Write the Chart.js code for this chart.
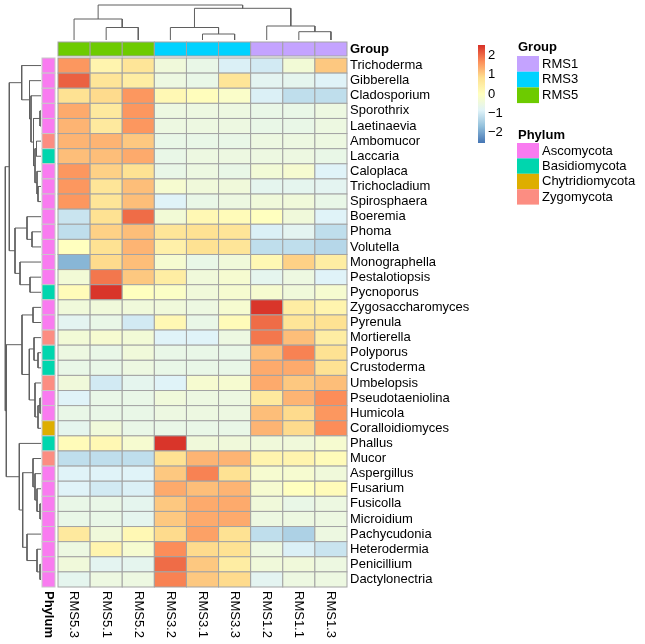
<!DOCTYPE html>
<html>
<head>
<meta charset="utf-8">
<script src="https://cdn.jsdelivr.net/npm/chart.js@4.4.0/dist/chart.umd.min.js"></script>
<style>
html, body { margin: 0; padding: 0; background: #fff; }
#wrap { width: 645px; height: 644px; }
</style>
</head>
<body>
<div id="wrap"><canvas id="heatmap" width="645" height="644"></canvas></div>
<script>
// samples (columns), in dendrogram order
const samples = ['RMS5.3', 'RMS5.1', 'RMS5.2', 'RMS3.2', 'RMS3.1', 'RMS3.3', 'RMS1.2', 'RMS1.1', 'RMS1.3'];
const sampleGroup = ['RMS5', 'RMS5', 'RMS5', 'RMS3', 'RMS3', 'RMS3', 'RMS1', 'RMS1', 'RMS1'];

// genera (rows), in dendrogram order
const genera = ['Trichoderma', 'Gibberella', 'Cladosporium', 'Sporothrix', 'Laetinaevia', 'Ambomucor',
  'Laccaria', 'Caloplaca', 'Trichocladium', 'Spirosphaera', 'Boeremia', 'Phoma', 'Volutella',
  'Monographella', 'Pestalotiopsis', 'Pycnoporus', 'Zygosaccharomyces', 'Pyrenula', 'Mortierella',
  'Polyporus', 'Crustoderma', 'Umbelopsis', 'Pseudotaeniolina', 'Humicola', 'Coralloidiomyces',
  'Phallus', 'Mucor', 'Aspergillus', 'Fusarium', 'Fusicolla', 'Microidium', 'Pachycudonia',
  'Heterodermia', 'Penicillium', 'Dactylonectria'];
const phylum = ['Ascomycota', 'Ascomycota', 'Ascomycota', 'Ascomycota', 'Ascomycota', 'Zygomycota',
  'Basidiomycota', 'Ascomycota', 'Ascomycota', 'Ascomycota', 'Ascomycota', 'Ascomycota', 'Ascomycota',
  'Ascomycota', 'Ascomycota', 'Basidiomycota', 'Ascomycota', 'Ascomycota', 'Zygomycota',
  'Basidiomycota', 'Basidiomycota', 'Zygomycota', 'Ascomycota', 'Ascomycota', 'Chytridiomycota',
  'Basidiomycota', 'Zygomycota', 'Ascomycota', 'Ascomycota', 'Ascomycota', 'Ascomycota', 'Ascomycota',
  'Ascomycota', 'Ascomycota', 'Ascomycota'];

// row-scaled abundance (z-score), one array per genus
const zscores = [
  [1.6, 0.3, 0.7, -0.4, -0.6, -0.9, -1.0, -0.35, 1.1],
  [2.1, 0.7, 0.5, -0.5, -0.6, 0.7, -0.75, -0.7, -0.85],
  [0.8, 0.9, 1.6, 0.2, 0.05, -0.15, -0.9, -1.2, -1.2],
  [1.4, 0.6, 1.6, -0.5, -0.5, -0.5, -0.6, -0.6, -0.5],
  [1.3, 0.6, 1.6, -0.5, -0.5, -0.5, -0.6, -0.6, -0.5],
  [1.3, 1.3, 1.1, -0.6, -0.6, -0.6, -0.5, -0.5, -0.5],
  [1.2, 1.2, 1.4, -0.6, -0.5, -0.5, -0.5, -0.5, -0.6],
  [1.6, 1.0, 0.8, -0.6, -0.5, -0.6, -0.35, -0.25, -0.85],
  [1.6, 0.7, 1.2, -0.25, -0.4, -0.4, -0.7, -0.7, -0.75],
  [1.6, 0.7, 1.2, -0.85, -0.6, -0.5, -0.4, -0.4, -0.6],
  [-1.1, 0.8, 2.0, -0.35, 0.2, 0.1, 0.0, -0.4, -0.85],
  [-1.2, 1.0, 1.2, 0.7, 0.8, 0.7, -0.9, -0.75, -1.2],
  [0.0, 0.8, 1.3, 0.4, 0.8, 0.7, -1.2, -1.2, -1.3],
  [-1.8, 0.9, 1.2, -0.25, -0.6, -0.4, 0.2, 1.0, 0.5],
  [-0.35, 1.9, 1.1, 0.5, -0.4, -0.25, -0.7, -0.5, -0.85],
  [0.1, 2.5, 0.0, -0.1, -0.4, -0.25, -0.25, -0.4, -0.25],
  [-0.4, -0.4, -0.4, -0.4, -0.5, -0.25, 2.5, 0.5, 0.3],
  [-0.75, -0.6, -1.0, 0.2, -0.6, 0.1, 2.0, 0.7, 0.8],
  [-0.35, -0.25, -0.35, -0.85, -0.85, -0.5, 1.9, 1.2, 0.5],
  [-0.5, -0.6, -0.4, -0.6, -0.6, -0.6, 1.2, 1.8, 0.8],
  [-0.6, -0.6, -0.5, -0.6, -0.6, -0.6, 1.4, 1.4, 0.8],
  [-0.4, -1.0, -0.7, -0.85, -0.25, -0.25, 1.4, 1.1, 1.2],
  [-0.85, -0.6, -0.6, -0.4, -0.5, -0.5, 0.6, 1.3, 1.7],
  [-0.6, -0.6, -0.6, -0.5, -0.5, -0.5, 1.2, 0.9, 1.6],
  [-0.7, -0.4, -0.6, -0.6, -0.6, -0.6, 1.3, 0.9, 1.7],
  [0.1, 0.2, -0.25, 2.5, -0.4, -0.4, -0.4, -0.4, -0.25],
  [-1.2, -1.2, -1.2, 0.8, 1.3, 1.3, 0.3, 0.3, 0.1],
  [-0.85, -0.85, -0.85, 1.1, 1.8, 0.8, -0.25, -0.25, -0.4],
  [-0.85, -1.0, -0.9, 1.4, 1.2, 1.3, -0.25, 0.0, 0.1],
  [-0.6, -0.6, -0.7, 1.1, 1.4, 1.4, -0.4, -0.6, -0.5],
  [-0.6, -0.6, -0.7, 1.1, 1.4, 1.4, -0.5, -0.5, -0.5],
  [0.6, -0.4, 0.2, 0.9, 1.5, 0.8, -1.2, -1.4, -0.5],
  [-0.5, 0.3, -0.25, 1.7, 0.9, 0.8, -0.5, -0.9, -1.1],
  [-0.4, -0.75, -0.7, 2.0, 1.1, 0.5, -0.4, -0.4, -0.5],
  [-0.7, -0.5, -0.5, 1.8, 1.1, 0.9, -0.75, -0.5, -0.5]
];

// annotation legends
const groupNames = ['RMS1', 'RMS3', 'RMS5'];
const groupColors = ['#C4A3FF', '#00D2FF', '#6DCB00'];
const phylumNames = ['Ascomycota', 'Basidiomycota', 'Chytridiomycota', 'Zygomycota'];
const phylumColors = ['#F97BF0', '#00D6AE', '#DEAE00', '#FC8D82'];

// colour key
const legendTicks = [2, 1, 0, -1, -2];
const scaleMin = -2.55;
const scaleMax = 2.55;
const palette = ['#4575B4', '#91BFDB', '#E0F3F8', '#FFFFBF', '#FEE090', '#FC8D59', '#D73027'];

// hclust style merges: negative = leaf (1-based), positive = earlier merge; third value = height
const colMerge = [[-2, -3, 12.5], [-1, 1, 21], [-5, -6, 6], [-4, 3, 12.5], [-8, -9, 8.3],
  [-7, 5, 14], [4, 6, 31.7], [2, 7, 35]];
const rowMerge = [[-4, -5, 1], [-6, -7, 4.5], [-9, -10, 3], [-8, 3, 4], [2, 4, 6], [1, 5, 7.5],
  [-3, 6, 10], [-2, 7, 11.5], [-1, 8, 19.3], [-12, -13, 9], [-11, 10, 14], [-15, -16, 11],
  [-14, 12, 21], [11, 13, 26], [9, 14, 31.7], [-17, -18, 8], [-20, -21, 3], [-19, 17, 7],
  [-23, -24, 1], [19, -25, 3], [-22, 20, 6], [18, 21, 11.7], [16, 22, 19], [-30, -31, 1],
  [-29, 24, 4], [-28, 25, 6], [-27, 26, 8], [-34, -35, 1], [-33, 28, 4], [-32, 29, 14],
  [27, 30, 18.3], [-26, 31, 21.7], [23, 32, 34.7], [15, 33, 35.7]];

const COL_PX = (645 - 58 - 298) / samples.length;
const ROW_PX = (644 - 58 - 57) / genera.length;

function hexRgb(h) {
  return [parseInt(h.slice(1, 3), 16), parseInt(h.slice(3, 5), 16), parseInt(h.slice(5, 7), 16)];
}
function valueColor(v) {
  let t = (v - scaleMin) / (scaleMax - scaleMin);
  t = Math.max(0, Math.min(1, t)) * (palette.length - 1);
  const i = Math.min(palette.length - 2, Math.floor(t));
  const f = t - i;
  const a = hexRgb(palette[i]), b = hexRgb(palette[i + 1]);
  const c = a.map((x, k) => Math.round(x + (b[k] - x) * f));
  return 'rgb(' + c.join(',') + ')';
}

// turn merges into U-shaped polylines; toXY maps (position, height) to scale values
function dendroDatasets(merges, toXY) {
  const pos = [], hgt = [];
  const sets = [];
  const p = id => id < 0 ? -id - 0.5 : pos[id - 1];
  const h = id => id < 0 ? 0 : hgt[id - 1];
  merges.forEach(m => {
    const pa = p(m[0]), pb = p(m[1]);
    pos.push((pa + pb) / 2);
    hgt.push(m[2]);
    sets.push({
      type: 'scatter',
      data: [toXY(pa, h(m[0])), toXY(pa, m[2]), toXY(pb, m[2]), toXY(pb, h(m[1]))],
      showLine: true,
      borderColor: '#5f5f5f',
      borderWidth: 1,
      pointRadius: 0,
      clip: false
    });
  });
  return sets;
}

const colSets = dendroDatasets(colMerge, (p, h) => ({ x: p, y: (40 - h - 58) / ROW_PX }));
const rowSets = dendroDatasets(rowMerge, (p, h) => ({ x: (41 - h - 58) / COL_PX, y: p }));

const FONT = '"Liberation Sans", Arial, sans-serif';

const heatPlugin = {
  id: 'heatPlugin',
  beforeDatasetsDraw(chart) {
    const ctx = chart.ctx;
    const xs = chart.scales.x, ys = chart.scales.y;
    ctx.save();
    // cells
    zscores.forEach((row, r) => {
      row.forEach((v, c) => {
        const x0 = xs.getPixelForValue(c), x1 = xs.getPixelForValue(c + 1);
        const y0 = ys.getPixelForValue(r), y1 = ys.getPixelForValue(r + 1);
        ctx.fillStyle = valueColor(v);
        ctx.fillRect(x0, y0, x1 - x0, y1 - y0);
        ctx.strokeStyle = '#a3a3a3';
        ctx.lineWidth = 1;
        ctx.strokeRect(x0, y0, x1 - x0, y1 - y0);
      });
    });
    // group bar
    samples.forEach((s, c) => {
      const x0 = xs.getPixelForValue(c), x1 = xs.getPixelForValue(c + 1);
      ctx.fillStyle = groupColors[groupNames.indexOf(sampleGroup[c])];
      ctx.fillRect(x0, 42, x1 - x0, 14);
      ctx.strokeStyle = '#a3a3a3';
      ctx.strokeRect(x0, 42, x1 - x0, 14);
    });
    // phylum bar
    genera.forEach((g, r) => {
      const y0 = ys.getPixelForValue(r), y1 = ys.getPixelForValue(r + 1);
      ctx.fillStyle = phylumColors[phylumNames.indexOf(phylum[r])];
      ctx.fillRect(42, y0, 13, y1 - y0);
      ctx.strokeStyle = '#c8c8c8';
      ctx.strokeRect(42, y0, 13, y1 - y0);
    });
    // row labels
    ctx.fillStyle = '#000';
    ctx.font = '13px ' + FONT;
    ctx.textAlign = 'left';
    ctx.textBaseline = 'middle';
    genera.forEach((g, r) => {
      ctx.fillText(g, xs.getPixelForValue(9) + 3, ys.getPixelForValue(r + 0.5));
    });
    ctx.font = 'bold 13px ' + FONT;
    ctx.fillText('Group', xs.getPixelForValue(9) + 3, 49);
    // column labels (rotated)
    samples.forEach((s, c) => {
      ctx.save();
      ctx.translate(xs.getPixelForValue(c + 0.5), ys.getPixelForValue(35) + 4);
      ctx.rotate(Math.PI / 2);
      ctx.font = '13px ' + FONT;
      ctx.fillText(s, 0, 0);
      ctx.restore();
    });
    ctx.save();
    ctx.translate(48.5, ys.getPixelForValue(35) + 4);
    ctx.rotate(Math.PI / 2);
    ctx.font = 'bold 13px ' + FONT;
    ctx.fillText('Phylum', 0, 0);
    ctx.restore();

    // colour key
    const kx = 478, kTop = 45, kBot = 143;
    const grad = ctx.createLinearGradient(0, kBot, 0, kTop);
    palette.forEach((col, i) => grad.addColorStop(i / (palette.length - 1), col));
    ctx.fillStyle = grad;
    ctx.fillRect(kx, kTop, 7, kBot - kTop);
    ctx.fillStyle = '#000';
    ctx.font = '13px ' + FONT;
    legendTicks.forEach(t => {
      const y = kBot - (t - scaleMin) / (scaleMax - scaleMin) * (kBot - kTop);
      ctx.fillText(t < 0 ? '\u2212' + Math.abs(t) : String(t), kx + 10, y);
    });

    // annotation legends
    const lx = 517;
    ctx.font = 'bold 13px ' + FONT;
    ctx.fillText('Group', lx + 1, 47);
    groupNames.forEach((n, i) => {
      ctx.fillStyle = groupColors[i];
      ctx.fillRect(lx, 56 + i * 15.7, 22, 15.7);
      ctx.fillStyle = '#000';
      ctx.font = '13px ' + FONT;
      ctx.fillText(n, lx + 25, 64 + i * 15.7);
    });
    ctx.font = 'bold 13px ' + FONT;
    ctx.fillText('Phylum', lx + 1, 135);
    phylumNames.forEach((n, i) => {
      ctx.fillStyle = phylumColors[i];
      ctx.fillRect(lx, 143 + i * 15.4, 22, 15.4);
      ctx.fillStyle = '#000';
      ctx.font = '13px ' + FONT;
      ctx.fillText(n, lx + 25, 151 + i * 15.4);
    });
    ctx.restore();
  }
};

new Chart(document.getElementById('heatmap'), {
  type: 'scatter',
  data: { datasets: colSets.concat(rowSets) },
  options: {
    responsive: false,
    animation: false,
    layout: { padding: { left: 58, top: 58, right: 298, bottom: 57 } },
    scales: {
      x: { type: 'linear', min: 0, max: 9, display: false },
      y: { type: 'linear', min: 0, max: 35, reverse: true, display: false }
    },
    plugins: { legend: { display: false }, tooltip: { enabled: false } }
  },
  plugins: [heatPlugin]
});
</script>
</body>
</html>
